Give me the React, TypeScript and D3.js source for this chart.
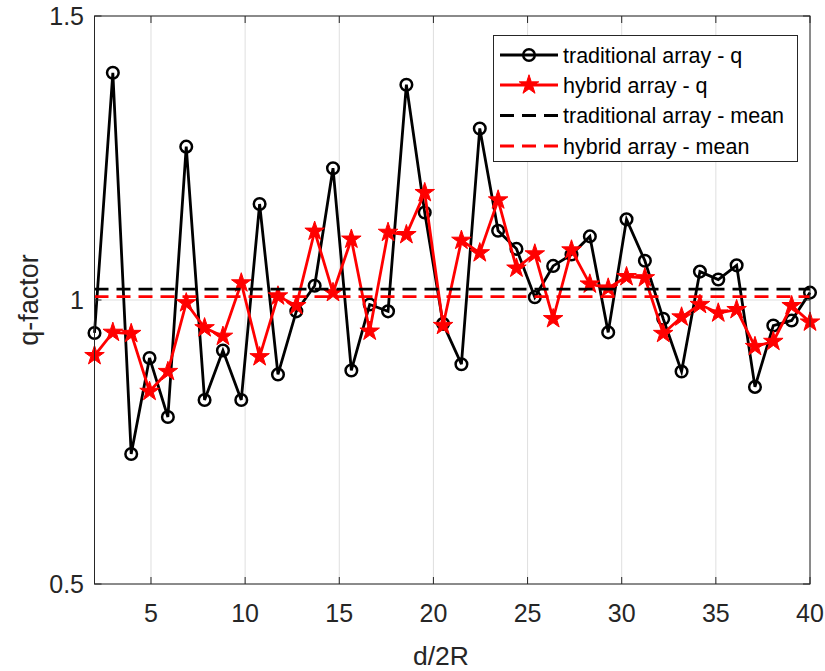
import React, { useEffect } from "react";
import * as d3 from "d3";

const xValues = [2, 2.974, 3.949, 4.923, 5.897, 6.872, 7.846, 8.821, 9.795, 10.769, 11.744, 12.718, 13.692, 14.667, 15.641, 16.615, 17.59, 18.564, 19.538, 20.513, 21.487, 22.462, 23.436, 24.41, 25.385, 26.359, 27.333, 28.308, 29.282, 30.256, 31.231, 32.205, 33.179, 34.154, 35.128, 36.103, 37.077, 38.051, 39.026, 40];
const traditionalQ = [0.942, 1.4, 0.729, 0.898, 0.794, 1.27, 0.824, 0.911, 0.824, 1.169, 0.869, 0.98, 1.025, 1.232, 0.876, 0.992, 0.98, 1.379, 1.154, 0.958, 0.887, 1.302, 1.122, 1.09, 1.005, 1.06, 1.08, 1.112, 0.943, 1.142, 1.069, 0.967, 0.874, 1.05, 1.036, 1.061, 0.847, 0.955, 0.964, 1.013];
const hybridQ = [0.902, 0.943, 0.941, 0.839, 0.874, 0.995, 0.951, 0.936, 1.03, 0.9, 1.007, 0.99, 1.121, 1.013, 1.107, 0.945, 1.119, 1.115, 1.189, 0.955, 1.105, 1.083, 1.176, 1.056, 1.081, 0.967, 1.088, 1.028, 1.021, 1.041, 1.039, 0.941, 0.97, 0.992, 0.977, 0.983, 0.918, 0.927, 0.99, 0.961];
const traditionalMean = 1.019;
const hybridMean = 1.006;
const xTicks = [5, 10, 15, 20, 25, 30, 35, 40];
const yTicks = [0.5, 1, 1.5];
const legendLabels = ["traditional array - q", "hybrid array - q", "traditional array - mean", "hybrid array - mean"];

const W = 825, H = 671;
const L = 94.5, R = 810, T = 16, B = 584;
const AX = "#262626";

export default function App() {
  useEffect(() => {
    document.body.style.margin = "0";
  }, []);
  const x = d3.scaleLinear().domain([2, 40]).range([L, R]);
  const y = d3.scaleLinear().domain([0.5, 1.5]).range([B, T]);
  const lineGen = d3.line<number>().x((_, i) => x(xValues[i])).y((d) => y(d));
  const star = d3.symbol().type(d3.symbolStar).size(118)();
  const font = "'Liberation Sans', Arial, Helvetica, sans-serif";
  const dash = "14 8";
  const lw = 2.8;
  const cr = 5.8, cw = 2.5;
  const legX0 = 500, legX1 = 558, legRows = [55, 85, 115.5, 146];
  return (
    <svg width={W} height={H} style={{ display: "block", background: "#fff" }} fontFamily={font}>
      <rect x={0} y={0} width={W} height={H} fill="#fff" />
      {xTicks.map((t) => (
        <line key={"gx" + t} x1={x(t)} x2={x(t)} y1={T} y2={B} stroke="#dfdfdf" strokeWidth={1} />
      ))}
      {yTicks.map((t) => (
        <line key={"gy" + t} x1={L} x2={R} y1={y(t)} y2={y(t)} stroke="#dfdfdf" strokeWidth={1} />
      ))}
      <path d={lineGen(traditionalQ) || ""} fill="none" stroke="#000" strokeWidth={lw} />
      {traditionalQ.map((v, i) => (
        <circle key={"c" + i} cx={x(xValues[i])} cy={y(v)} r={cr} fill="none" stroke="#000" strokeWidth={cw} />
      ))}
      <path d={lineGen(hybridQ) || ""} fill="none" stroke="#ff0000" strokeWidth={lw} />
      {hybridQ.map((v, i) => (
        <path key={"s" + i} d={star || ""} transform={`translate(${x(xValues[i])},${y(v)})`} fill="#ff0000" stroke="#ff0000" strokeWidth={1} />
      ))}
      <line x1={x(2)} x2={x(40)} y1={y(traditionalMean)} y2={y(traditionalMean)} stroke="#000" strokeWidth={lw} strokeDasharray={dash} />
      <line x1={x(2)} x2={x(40)} y1={y(hybridMean)} y2={y(hybridMean)} stroke="#ff0000" strokeWidth={lw} strokeDasharray={dash} />
      <rect x={L} y={T} width={R - L} height={B - T} fill="none" stroke={AX} strokeWidth={1} />
      {xTicks.map((t) => (
        <g key={"tx" + t}>
          <line x1={x(t)} x2={x(t)} y1={B} y2={B - 7} stroke={AX} strokeWidth={1} />
          <line x1={x(t)} x2={x(t)} y1={T} y2={T + 7} stroke={AX} strokeWidth={1} />
          <text x={x(t)} y={622} textAnchor="middle" fontSize={25} fill={AX}>{t}</text>
        </g>
      ))}
      {yTicks.map((t) => (
        <g key={"ty" + t}>
          <line x1={L} x2={L + 7} y1={y(t)} y2={y(t)} stroke={AX} strokeWidth={1} />
          <line x1={R} x2={R - 7} y1={y(t)} y2={y(t)} stroke={AX} strokeWidth={1} />
          <text x={84} y={y(t) + 9} textAnchor="end" fontSize={25} fill={AX}>{t}</text>
        </g>
      ))}
      <text x={441} y={665} textAnchor="middle" fontSize={26.5} fill={AX}>d/2R</text>
      <text transform={`translate(38,300) rotate(-90)`} textAnchor="middle" fontSize={27} fill={AX}>q-factor</text>
      <rect x={493.5} y={35.5} width={304} height={126} fill="#fff" stroke={AX} strokeWidth={1} />
      <line x1={legX0} x2={legX1} y1={legRows[0]} y2={legRows[0]} stroke="#000" strokeWidth={lw} />
      <circle cx={(legX0 + legX1) / 2} cy={legRows[0]} r={cr} fill="none" stroke="#000" strokeWidth={cw} />
      <line x1={legX0} x2={legX1} y1={legRows[1]} y2={legRows[1]} stroke="#ff0000" strokeWidth={lw} />
      <path d={star || ""} transform={`translate(${(legX0 + legX1) / 2},${legRows[1]})`} fill="#ff0000" stroke="#ff0000" strokeWidth={1} />
      <line x1={legX0} x2={legX1} y1={legRows[2]} y2={legRows[2]} stroke="#000" strokeWidth={lw} strokeDasharray={dash} />
      <line x1={legX0} x2={legX1} y1={legRows[3]} y2={legRows[3]} stroke="#ff0000" strokeWidth={lw} strokeDasharray={dash} />
      {legendLabels.map((s, i) => (
        <text key={s} x={563} y={legRows[i] + 7.5} fontSize={21.5} fill="#000">{s}</text>
      ))}
    </svg>
  );
}
